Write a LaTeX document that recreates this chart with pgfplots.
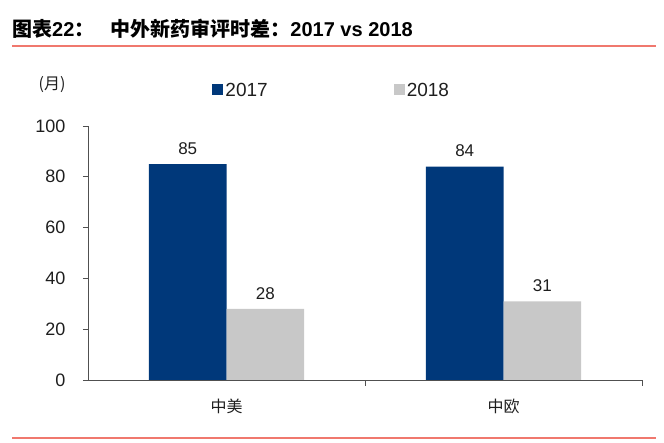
\documentclass[border=0pt]{standalone}
\usepackage{fontspec}
\setmainfont{Liberation Sans}
\newfontfamily\cjk{Noto Sans CJK SC}
\usepackage{pgfplots}
\pgfplotsset{compat=1.18}
\definecolor{barblue}{RGB}{0,56,122}
\definecolor{bargray}{RGB}{200,200,200}
\definecolor{redline}{RGB}{240,120,110}
\definecolor{axgray}{RGB}{80,80,80}
\definecolor{txt}{RGB}{30,30,30}
\begin{document}
\begin{tikzpicture}[x=1pt,y=1pt]
\path[use as bounding box] (0,0) rectangle (664,443);
\node[anchor=base west,inner sep=0pt,font=\fontsize{20}{22}\selectfont\bfseries] at (12,406) {{\cjk 图表}22{\cjk ：}\hspace{16pt}{\cjk 中外新药审评时差：}2017 vs 2018};
\draw[redline,line width=1.2pt] (12,397) -- (656,397);
\draw[redline,line width=1.2pt] (12,5) -- (656,5);
\node[font=\fontsize{16}{18}\selectfont\cjk,inner sep=0pt,text=txt] at (52,358) {(月)};
\begin{axis}[
  at={(88pt,63pt)}, anchor=south west,
  scale only axis, width=554pt, height=254pt,
  xmin=-0.5, xmax=1.5, ymin=0, ymax=100,
  axis x line*=bottom, axis y line*=left,
  axis line style={axgray, line width=0.9pt},
  ytick={0,20,40,60,80,100},
  xtick={0,1},
  xticklabels={{\cjk 中美},{\cjk 中欧}},
  x tick label style={font=\fontsize{16}{18}\selectfont, text=txt, yshift=-10pt},
  y tick label style={font=\fontsize{18}{20}\selectfont, text=txt, xshift=-14pt},
  /pgf/number format/assume math mode=true,
  tick align=outside,
  major tick length=5pt,
  ytick style={draw=axgray, line width=0.9pt},
  xtick style={draw=none},
  extra x ticks={0.5,1.5},
  extra x tick labels={},
  extra x tick style={xtick style={draw=axgray, line width=0.9pt}, major tick length=6pt},
  ybar, bar width=0.28,
  nodes near coords,
  every node near coord/.append style={font=\fontsize{17}{19}\selectfont, text=txt, yshift=6pt},
  legend style={at={(0.44,1.14)}, anchor=center, draw=none, fill=none,
    font=\fontsize{19}{21}\selectfont, text=txt, legend columns=2,
    /tikz/every even column/.append style={column sep=124pt}},
  legend image code/.code={\fill[#1] (0pt,-5pt) rectangle (11pt,6pt);},
]
\addplot[fill=barblue, draw=none, bar shift=-0.14] coordinates {(0,85) (1,84)};
\addplot[fill=bargray, draw=none, bar shift=0.14] coordinates {(0,28) (1,31)};
\legend{2017,2018}
\end{axis}
\end{tikzpicture}
\end{document}
